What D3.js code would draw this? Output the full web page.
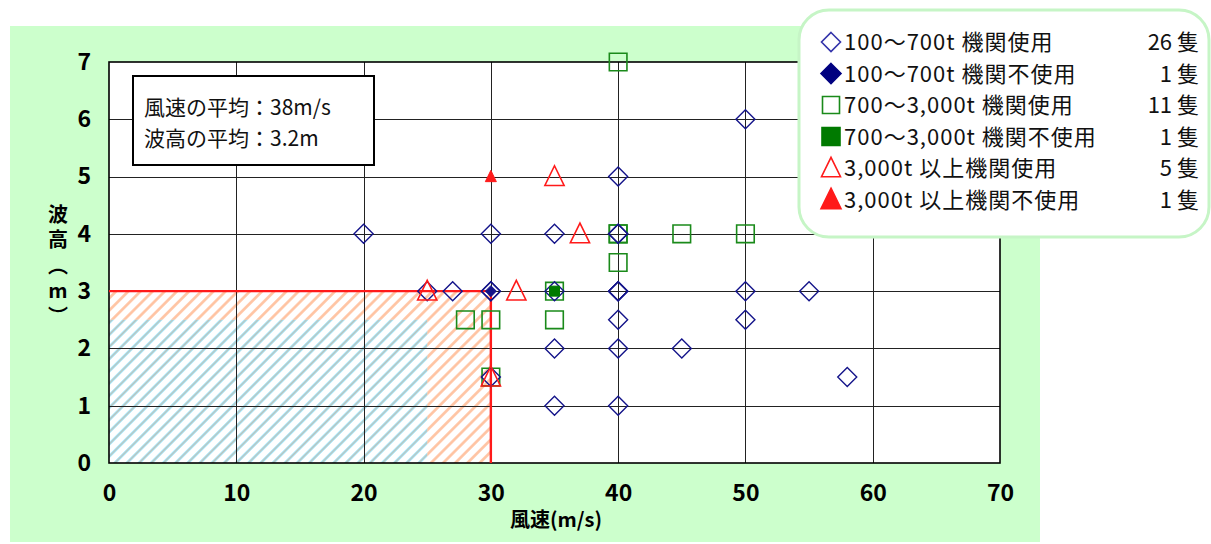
<!DOCTYPE html>
<html>
<head>
<meta charset="utf-8">
<script src="https://cdn.jsdelivr.net/npm/d3@7"></script>
<style>
  html, body { margin: 0; padding: 0; background: #ffffff; }
  svg { display: block; }
  text { font-family: "Noto Sans CJK JP", "Noto Sans", sans-serif; }
</style>
</head>
<body>
<svg id="chart" width="1211" height="544"></svg>
<script>
// Axis ticks
const windTicks = [0, 10, 20, 30, 40, 50, 60, 70];
const waveTicks = [0, 1, 2, 3, 4, 5, 6, 7];

// Observations: [wind speed (m/s), wave height (m)]
const smallUsed = [
  [20, 4], [25, 3], [27, 3], [30, 4], [30, 3], [30, 3], [30, 1.5],
  [35, 4], [35, 3], [35, 2], [35, 1],
  [40, 5], [40, 4], [40, 4], [40, 3], [40, 3], [40, 3], [40, 2.5], [40, 2], [40, 1],
  [45, 2], [50, 6], [50, 3], [50, 2.5], [55, 3], [58, 1.5]
];
const smallUnused = [[30, 3]];
const midUsed = [
  [40, 7], [40, 4], [40, 4], [40, 3.5], [45, 4], [50, 4],
  [35, 3], [35, 2.5], [28, 2.5], [30, 2.5], [30, 1.5]
];
const midUnused = [[35, 3]];
const largeUsed = [[35, 5], [37, 4], [25, 3], [32, 3], [30, 1.5]];
const largeUnused = [[30, 5]];

// Reference zones
const outerZone = [30, 3];   // orange hatch, red outline
const innerZone = [25, 2.5]; // cyan hatch

// Averages
const meanWind = 38;
const meanWave = 3.2;

// Legend
const legendLabels = [
  "100～700t 機関使用",
  "100～700t 機関不使用",
  "700～3,000t 機関使用",
  "700～3,000t 機関不使用",
  "3,000t 以上機関使用",
  "3,000t 以上機関不使用"
];
const legendCounts = [26, 1, 11, 1, 5, 1];

const svg = d3.select("#chart");

const x = d3.scaleLinear().domain([0, 70]).range([109, 1000]);
const y = d3.scaleLinear().domain([0, 7]).range([463, 62]);

// Background panel
svg.append("rect").attr("x", 10).attr("y", 26).attr("width", 1030).attr("height", 516)
  .attr("fill", "#ccffcc");

// Plot area
svg.append("rect")
  .attr("x", x(0)).attr("y", y(7))
  .attr("width", x(70) - x(0)).attr("height", y(0) - y(7))
  .attr("fill", "#ffffff");

// Hatch patterns
const defs = svg.append("defs");
function hatch(id, color, width, opacity) {
  const p = defs.append("pattern")
    .attr("id", id)
    .attr("patternUnits", "userSpaceOnUse")
    .attr("width", 8.6).attr("height", 8.6)
    .attr("patternTransform", "rotate(-45)");
  p.append("line")
    .attr("x1", 0).attr("y1", 4.3).attr("x2", 8.6).attr("y2", 4.3)
    .attr("stroke", color).attr("stroke-width", width).attr("stroke-opacity", opacity);
}
hatch("hatchOrange", "#ffa877", 2.6, 0.7);
hatch("hatchCyan", "#6fd2ee", 2.6, 0.75);
hatch("hatchSpeck", "#ff9a66", 1.0, 0.45);

function zoneRect(zone, fill) {
  return svg.append("rect")
    .attr("x", x(0)).attr("y", y(zone[1]))
    .attr("width", x(zone[0]) - x(0)).attr("height", y(0) - y(zone[1]))
    .attr("fill", fill);
}
zoneRect(outerZone, "url(#hatchOrange)");
zoneRect(innerZone, "#ffffff");
zoneRect(innerZone, "url(#hatchCyan)");
zoneRect(innerZone, "url(#hatchSpeck)");

// Grid lines
const grid = svg.append("g").attr("stroke", "#222").attr("stroke-width", 1);
grid.selectAll(".gx").data(windTicks.slice(1, -1)).join("line")
  .attr("x1", d => Math.round(x(d)) + 0.5).attr("x2", d => Math.round(x(d)) + 0.5)
  .attr("y1", y(7)).attr("y2", y(0));
grid.selectAll(".gy").data(waveTicks.slice(1, -1)).join("line")
  .attr("x1", x(0)).attr("x2", x(70))
  .attr("y1", d => Math.round(y(d)) + 0.5).attr("y2", d => Math.round(y(d)) + 0.5);

// Plot frame
svg.append("rect")
  .attr("x", x(0)).attr("y", y(7))
  .attr("width", x(70) - x(0)).attr("height", y(0) - y(7))
  .attr("fill", "none").attr("stroke", "#000").attr("stroke-width", 1.6);

// Red outline of the reference zone
svg.append("path")
  .attr("d", d3.line()([[x(0), y(outerZone[1])], [x(outerZone[0]), y(outerZone[1])], [x(outerZone[0]), y(0)]]))
  .attr("fill", "none").attr("stroke", "#ff1a1a").attr("stroke-width", 2.4);

// Axes (labels only)
const yAxis = svg.append("g").attr("transform", `translate(${x(0)},0)`)
  .call(d3.axisLeft(y).tickValues(waveTicks).tickFormat(d3.format("d")).tickSize(0).tickPadding(18));
const xAxis = svg.append("g").attr("transform", `translate(0,${y(0)})`)
  .call(d3.axisBottom(x).tickValues(windTicks).tickFormat(d3.format("d")).tickSize(0).tickPadding(22));
[xAxis, yAxis].forEach(a => {
  a.select(".domain").remove();
  a.selectAll("text")
    .attr("font-family", "'Noto Sans CJK JP', sans-serif")
    .attr("font-weight", "bold").attr("font-size", "23px").attr("fill", "#000");
});

// Axis titles
svg.append("text")
  .attr("x", 556).attr("y", 527)
  .attr("text-anchor", "middle")
  .attr("font-weight", "bold").attr("font-size", "20px")
  .text("風速(m/s)");

svg.append("text")
  .attr("x", 58).attr("y", 204)
  .style("writing-mode", "vertical-rl")
  .style("text-orientation", "upright")
  .attr("letter-spacing", "5.5px")
  .attr("font-weight", "bold").attr("font-size", "20px")
  .text("波高（m）");

// Marker shapes
function diamondPath(cx, cy, r) {
  return `M${cx},${cy - r}L${cx + r},${cy}L${cx},${cy + r}L${cx - r},${cy}Z`;
}
function squarePath(cx, cy, r) {
  return `M${cx - r},${cy - r}H${cx + r}V${cy + r}H${cx - r}Z`;
}
function trianglePath(cx, cy, r) {
  const h = r * 2.05;
  return `M${cx},${cy - h * 0.55}L${cx + r},${cy + h * 0.45}L${cx - r},${cy + h * 0.45}Z`;
}

const navy = "#14148a";
const green = "#1a8a1a";
const red = "#ff1a1a";

function drawMarkers(data, shape, r, fill, stroke, sw) {
  svg.append("g").selectAll("path").data(data).join("path")
    .attr("d", d => shape(x(d[0]), y(d[1]), r))
    .attr("fill", fill).attr("stroke", stroke).attr("stroke-width", sw);
}

drawMarkers(midUsed, squarePath, 8.8, "none", green, 1.6);
drawMarkers(smallUsed, diamondPath, 9.5, "none", navy, 1.4);
drawMarkers(largeUsed, trianglePath, 9.6, "none", red, 1.6);
drawMarkers(smallUnused, diamondPath, 5.5, navy, navy, 1);
drawMarkers(midUnused, squarePath, 5, "#007a00", "#007a00", 1);
drawMarkers(largeUnused, trianglePath, 5.5, red, red, 1);

// Average annotation box
svg.append("rect")
  .attr("x", 133).attr("y", 76).attr("width", 241).attr("height", 89)
  .attr("fill", "#fff").attr("stroke", "#000").attr("stroke-width", 2);
svg.append("text").attr("x", 144).attr("y", 115)
  .attr("font-size", "21px").attr("fill", "#111")
  .text(`風速の平均：${meanWind}m/s`);
svg.append("text").attr("x", 144).attr("y", 146)
  .attr("font-size", "21px").attr("fill", "#111")
  .text(`波高の平均：${meanWave.toFixed(1)}m`);

// Legend
svg.append("rect")
  .attr("x", 799).attr("y", 10).attr("width", 410).attr("height", 227)
  .attr("rx", 30).attr("ry", 30)
  .attr("fill", "#fff").attr("stroke", "#c6f5c6").attr("stroke-width", 3);

const legendShapes = [
  { shape: diamondPath, r: 9.5, fill: "none", stroke: "#3333aa" },
  { shape: diamondPath, r: 10, fill: "#000080", stroke: "#000080" },
  { shape: squarePath, r: 8.5, fill: "none", stroke: green },
  { shape: squarePath, r: 9, fill: "#007a00", stroke: "#007a00" },
  { shape: trianglePath, r: 9.5, fill: "none", stroke: red },
  { shape: trianglePath, r: 10, fill: red, stroke: red }
];
const rowY = i => 42 + i * 31.5;
const leg = svg.append("g");
leg.selectAll("path").data(legendShapes).join("path")
  .attr("d", (d, i) => d.shape(831, rowY(i), d.r))
  .attr("fill", d => d.fill).attr("stroke", d => d.stroke).attr("stroke-width", 1.6);
leg.selectAll("text.lab").data(legendLabels).join("text")
  .attr("class", "lab")
  .attr("x", 844).attr("y", (d, i) => rowY(i) + 8)
  .attr("font-size", "22px").attr("letter-spacing", "1px").attr("fill", "#111")
  .text(d => d);
leg.selectAll("text.cnt").data(legendCounts).join("text")
  .attr("class", "cnt")
  .attr("x", 1199).attr("y", (d, i) => rowY(i) + 8)
  .attr("text-anchor", "end")
  .attr("font-size", "22px").attr("fill", "#111")
  .text(d => `${d} 隻`);
</script>
</body>
</html>
